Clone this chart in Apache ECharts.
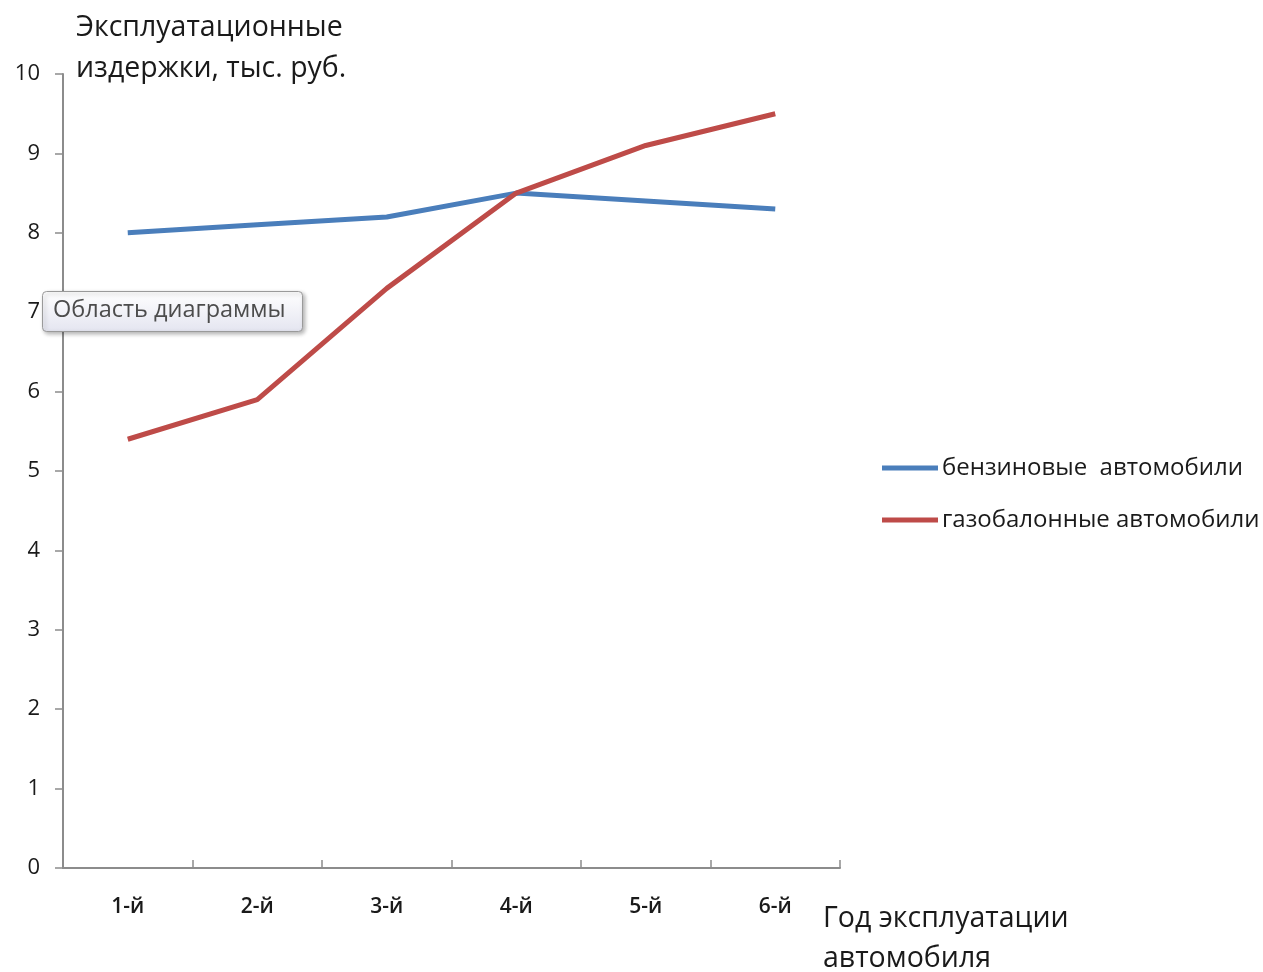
<!DOCTYPE html>
<html>
<head>
<meta charset="utf-8">
<script src="https://cdn.jsdelivr.net/npm/echarts@6/dist/echarts.min.js"></script>
<style>html,body{margin:0;padding:0;background:#fff}#c{width:1263px;height:972px}</style>
</head>
<body>
<div id="c"></div>
<script>
const categories = ['1-й', '2-й', '3-й', '4-й', '5-й', '6-й'];
const petrol = [8.0, 8.1, 8.2, 8.5, 8.4, 8.3];
const gas = [5.4, 5.9, 7.3, 8.5, 9.1, 9.5];
const seriesNames = ['бензиновые  автомобили', 'газобалонные автомобили'];
const yTitle = 'Эксплуатационные\nиздержки, тыс. руб.';
const xTitle = 'Год эксплуатации\nавтомобиля';
const tipText = 'Область диаграммы';

const FONT = 'Open Sans';
const chart = echarts.init(document.getElementById('c'));
chart.setOption({
  animation: false,
  textStyle: { fontFamily: FONT },
  grid: { left: 63, right: 423, top: 74, bottom: 104, containLabel: false },
  legend: {
    orient: 'vertical',
    left: 877, top: 451,
    itemGap: 28,
    itemWidth: 56, itemHeight: 5,
    icon: 'rect',
    textStyle: { fontSize: 24, color: '#1a1a1a', padding: [0, 0, 0, -1], fontFamily: FONT, fontWeight: 500 },
    data: seriesNames
  },
  xAxis: {
    type: 'category',
    data: categories,
    boundaryGap: true,
    axisLine: { lineStyle: { color: '#8c8c8c', width: 2 } },
    axisTick: { show: true, inside: true, length: 8, lineStyle: { color: '#8c8c8c', width: 1.5 } },
    axisLabel: { fontSize: 21, color: '#1a1a1a', margin: 29, fontFamily: FONT, fontWeight: 600 },
    splitLine: { show: false }
  },
  yAxis: {
    type: 'value',
    min: 0, max: 10, interval: 1,
    axisLine: { show: true, lineStyle: { color: '#8c8c8c', width: 2 } },
    axisTick: { show: true, length: 8, lineStyle: { color: '#8c8c8c', width: 1.5 } },
    axisLabel: { fontSize: 22, color: '#1a1a1a', margin: 23, fontFamily: FONT, fontWeight: 500 },
    splitLine: { show: false }
  },
  series: [
    { name: seriesNames[0], type: 'line', data: petrol, symbol: 'none',
      lineStyle: { color: '#4a7ebb', width: 5 }, itemStyle: { color: '#4a7ebb' } },
    { name: seriesNames[1], type: 'line', data: gas, symbol: 'none',
      lineStyle: { color: '#be4b48', width: 5 }, itemStyle: { color: '#be4b48' } }
  ],
  graphic: [
    { type: 'text', left: 76, top: 7,
      style: { text: yTitle, fontSize: 28.5, lineHeight: 41, fill: '#1a1a1a', fontFamily: FONT, fontWeight: 500 } },
    { type: 'text', left: 823, top: 899,
      style: { text: xTitle, fontSize: 28.5, lineHeight: 40, fill: '#1a1a1a', fontFamily: FONT, fontWeight: 500 } },
    { type: 'rect', left: 42, top: 291, z: 100,
      shape: { width: 260, height: 40, r: 4 },
      style: { fill: new echarts.graphic.LinearGradient(0, 0, 0, 1, [{offset: 0, color: '#ffffff'}, {offset: 1, color: '#e4e5f0'}]),
               stroke: '#9a9a9a', lineWidth: 1, shadowBlur: 4, shadowOffsetX: 2, shadowOffsetY: 2, shadowColor: 'rgba(0,0,0,0.3)' } },
    { type: 'text', left: 53, top: 298, z: 101,
      style: { text: tipText, fontSize: 23.5, fill: '#4c4c4c', fontFamily: FONT } }
  ]
});
</script>
</body>
</html>
